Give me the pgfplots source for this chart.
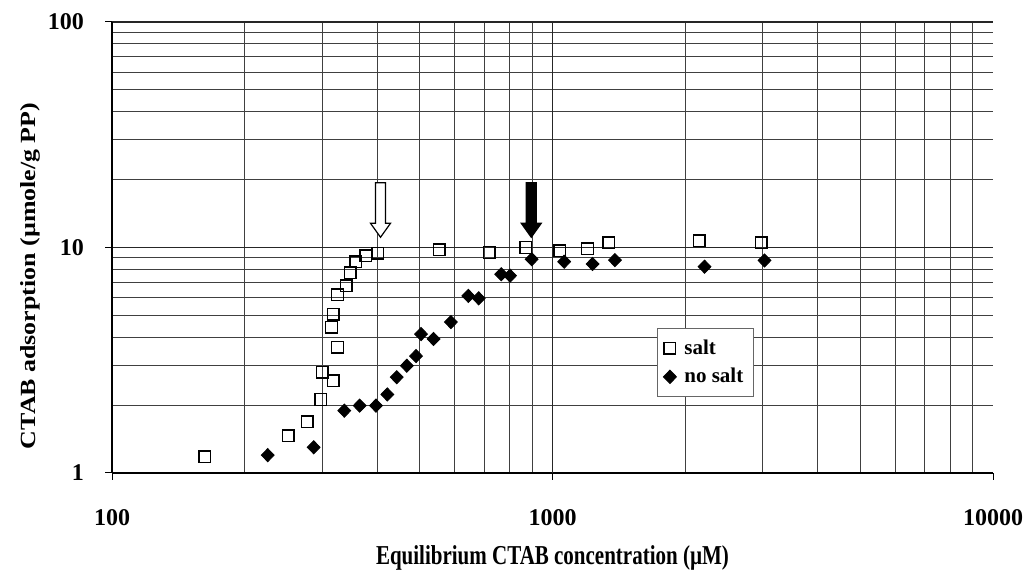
\documentclass[border=0pt]{standalone}
\usepackage{fontspec}
\setmainfont{Liberation Serif}
\usepackage{pgfplots}
\pgfplotsset{compat=1.18}
\usepackage{graphicx}
\begin{document}
\begin{tikzpicture}
\useasboundingbox (-56pt,-51.5pt) rectangle (459pt,236.5pt);
\begin{axis}[
  at={(0,0)}, anchor=south west,
  scale only axis, width=440.5pt, height=225.5pt,
  xmode=log, ymode=log,
  xmin=100, xmax=10000, ymin=1, ymax=100,
  axis x line*=bottom, axis y line*=left,
  axis line style={black, line width=0.6pt},
  xtick={100,1000,10000}, xticklabels={100,1000,10000},
  ytick={1,10,100}, yticklabels={1,10,100},
  minor xtick={200,300,400,500,600,700,800,900,2000,3000,4000,5000,6000,7000,8000,9000},
  minor ytick={2,3,4,5,6,7,8,9,20,30,40,50,60,70,80,90},
  ymajorgrids, xminorgrids, yminorgrids,
  extra x ticks={1000}, extra x tick labels={},
  extra x tick style={grid=major, major tick length=0pt},
  major grid style={black!85, line width=0.55pt},
  minor grid style={black!75, line width=0.45pt},
  tick align=outside, major tick length=3.5pt, minor tick length=0pt,
  tick style={black, line width=0.5pt},
  ticklabel style={font=\fontsize{12}{14}\selectfont\bfseries},
  xticklabel style={yshift=-11pt},
  yticklabel style={xshift=-7pt},
  xlabel={\scalebox{1}[1.3]{Equilibrium CTAB concentration (µM)}},
  ylabel={\scalebox{1.2}[1]{CTAB adsorption (µmole/g PP)}},
  xlabel style={at={(axis description cs:0.5,-0.1885)}, anchor=center, font=\fontsize{10.5}{12}\selectfont\bfseries},
  ylabel style={at={(axis description cs:-0.093,0.437)}, anchor=center, font=\fontsize{10.8}{12}\selectfont\bfseries},
  legend style={at={(0.6186,0.3215)}, anchor=north west, draw=black!60, line width=0.5pt,
    font=\fontsize{10.5}{12}\selectfont\bfseries, row sep=1.5pt, inner xsep=3pt, inner ysep=3.5pt},
  legend cell align=left,
  legend image code/.code={\draw[#1] plot coordinates {(0.15cm,0cm)};},
]
\addplot[only marks, mark=square, mark size=2.9pt, mark options={black, fill=white, line width=0.7pt}]
coordinates {
(162.5,1.18) (251,1.46) (277.5,1.69) (298,2.12) (300,2.80) (318,2.56)
(325,3.61) (315,4.43) (318,5.06) (325,6.16) (340,6.77) (347.6,7.73)
(358,8.65) (376.7,9.17) (401,9.42) (553,9.75) (719,9.5) (870,10.0)
(1039,9.67) (1201,9.85) (1343,10.5) (2154,10.7) (2979,10.5)
};
\addlegendentry{\hspace{2pt}salt}
\addplot[only marks, mark=diamond*, mark size=3.3pt, mark options={black, fill=black, xscale=1.3}]
coordinates {
(225.7,1.20) (287,1.30) (336.8,1.89) (365,1.99) (397.5,1.99) (421.7,2.23)
(443,2.66) (467,2.99) (490,3.30) (503,4.13) (537,3.93) (588,4.67)
(644,6.10) (680,5.95) (765,7.61) (801,7.50) (897,8.87)
(1063,8.65) (1233,8.45) (1386,8.79) (2214,8.22) (3029,8.76)
};
\addlegendentry{\hspace{2pt}no salt}
\coordinate (A1) at (axis cs:407,11.1);
\coordinate (A2) at (axis cs:895,11.1);
\end{axis}
\draw[black, line width=0.6pt, fill=white, line join=miter]
  (A1) -- ++(-5pt,7pt) -- ++(2.5pt,0pt) -- ++(0pt,20.3pt) -- ++(5pt,0pt)
  -- ++(0pt,-20.3pt) -- ++(2.5pt,0pt) -- cycle;
\draw[black, line width=0.6pt, fill=black, line join=miter]
  (A2) -- ++(-5pt,7pt) -- ++(2.5pt,0pt) -- ++(0pt,20.3pt) -- ++(5pt,0pt)
  -- ++(0pt,-20.3pt) -- ++(2.5pt,0pt) -- cycle;
\end{tikzpicture}
\end{document}
